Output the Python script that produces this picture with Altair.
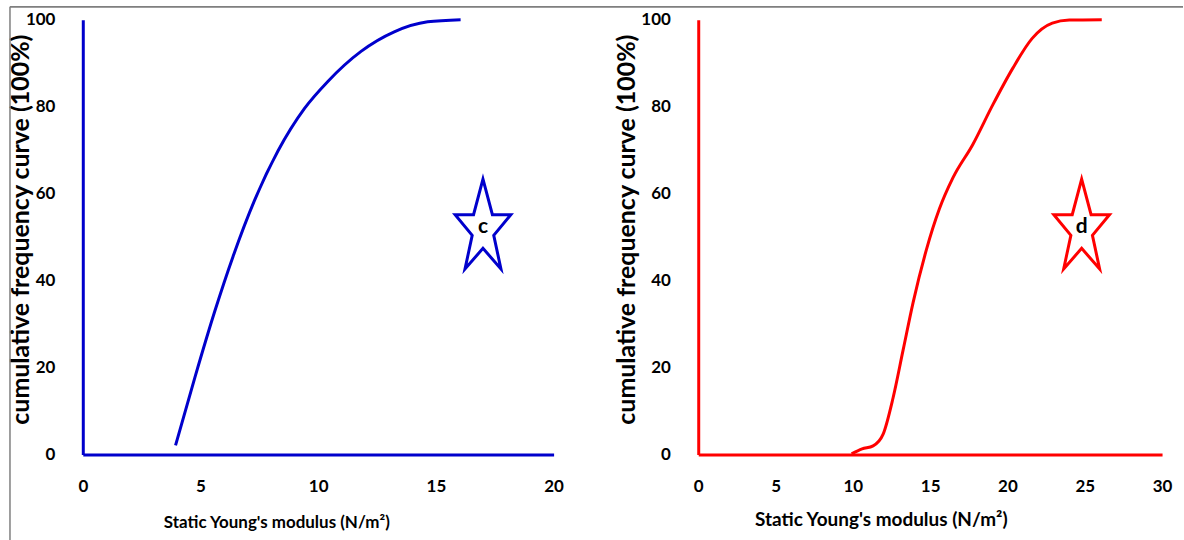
import altair as alt
import pandas as pd

# Cumulative frequency curves of static Young's modulus
left_x = [3.94, 4.76, 5.61, 6.38, 7.30, 8.29, 9.42, 10.41, 11.82, 13.23, 14.65, 16.05]
left_y = [2.1, 17.7, 33.0, 45.5, 58.5, 69.8, 79.6, 85.8, 92.7, 97.2, 99.5, 100.0]

right_x = [9.92, 10.6, 11.31, 11.96, 12.6, 13.25, 13.9, 14.75, 15.6, 16.47, 17.76,
           19.05, 20.34, 21.6, 22.9, 24.0, 26.1]
right_y = [0.15, 1.3, 2.0, 4.7, 13.0, 24.0, 35.0, 47.0, 56.5, 63.6, 71.3,
           80.4, 88.8, 95.7, 99.2, 99.9, 100.0]

left_ticks = [0, 5, 10, 15, 20]
right_ticks = [0, 5, 10, 15, 20, 25, 30]
y_ticks = [0, 20, 40, 60, 80, 100]

left_badge = {"x": 17.0, "y": 53.0, "label": "c"}
right_badge = {"x": 24.8, "y": 53.0, "label": "d"}

BLUE = "#0000CC"
RED = "#FF0000"
FRAME = "#7f7f7f"
FONT = "Lato"
STAR = ("M0,-1L0.21,-0.21L0.62,-0.21L0.24,0.25L0.40,1L0,0.54L-0.40,1"
        "L-0.24,0.25L-0.62,-0.21L-0.21,-0.21Z")
X_TITLE = "Static Young's modulus (N/m²)"
Y_TITLE = "cumulative frequency curve (100%)"
NO_VIEW = alt.ViewBackground(strokeOpacity=0, strokeWidth=0, fill="white")


def panel(xs, ys, ticks, xmax, badge, color, width, ytitle_x, xtitle_x, xtitle_y,
          xtitle_size, frame_left):
    curve = pd.DataFrame({"modulus": xs, "freq": ys})
    xscale = alt.Scale(domain=[0, xmax], nice=False, zero=True)
    yscale = alt.Scale(domain=[0, 100], nice=False)
    xaxis = alt.Axis(
        values=ticks, ticks=False, tickSize=0, grid=False,
        domainColor=color, domainWidth=3,
        labelFont=FONT, labelFontWeight="bold", labelFontSize=17,
        labelColor="black", labelPadding=24, labelFlush=False,
        titleFont=FONT, titleFontWeight="bold",
        titleFontSize=xtitle_size, titleColor="black",
        titleX=xtitle_x, titleY=xtitle_y, titleBaseline="middle",
    )
    yaxis = alt.Axis(
        values=y_ticks, ticks=False, tickSize=0, grid=False,
        domainColor=color, domainWidth=3,
        labelFont=FONT, labelFontWeight="bold", labelFontSize=17,
        labelColor="black", labelPadding=28,
        titleFont=FONT, titleFontWeight="bold", titleFontSize=25, titleColor="black",
        titleX=ytitle_x, titleY=210, titleBaseline="middle",
    )
    line = alt.Chart(curve).mark_line(
        color=color, strokeWidth=3, interpolate="monotone"
    ).encode(
        x=alt.X("modulus:Q", scale=xscale, axis=xaxis, title=X_TITLE),
        y=alt.Y("freq:Q", scale=yscale, axis=yaxis, title=Y_TITLE),
    )
    bdf = pd.DataFrame([badge])
    star = alt.Chart(bdf).mark_point(
        shape=STAR, size=8100, fill="white", fillOpacity=1, stroke=color,
        strokeWidth=3, opacity=1,
    ).encode(
        x=alt.X("x:Q", scale=xscale), y=alt.Y("y:Q", scale=yscale)
    )
    letter = alt.Chart(bdf).mark_text(
        font=FONT, fontWeight="bold", fontSize=21, color="black", dy=3
    ).encode(
        x=alt.X("x:Q", scale=xscale), y=alt.Y("y:Q", scale=yscale), text="label:N"
    )
    layers = [line, star, letter]
    # thin outer frame
    one = alt.Data(values=[{}])
    layers.append(
        alt.Chart(one).mark_rule(color=FRAME, strokeWidth=1.5).encode(
            x=alt.value(frame_left), x2=alt.value(frame_left + 1176),
            y=alt.value(-13),
        )
    )
    if frame_left > -100:
        layers.append(
            alt.Chart(one).mark_rule(color=FRAME, strokeWidth=1.5).encode(
                x=alt.value(frame_left), y=alt.value(-13), y2=alt.value(540),
            )
        )
    return alt.layer(*layers).properties(width=width, height=436, view=NO_VIEW)


left = panel(left_x, left_y, left_ticks, 20, left_badge, BLUE, 472,
             -62, 194, 68, 17, -73)
right = panel(right_x, right_y, right_ticks, 30, right_badge, RED, 465,
              -72, 183, 65, 19, -690)

chart = alt.hconcat(left, right, spacing=145, bounds="flush").properties(
    padding={"left": 8, "top": 5, "right": 0, "bottom": 0}
).configure_view(strokeWidth=0, strokeOpacity=0).configure(background="white")

chart.save("out.html", embed_options={"renderer": "svg", "actions": False})
